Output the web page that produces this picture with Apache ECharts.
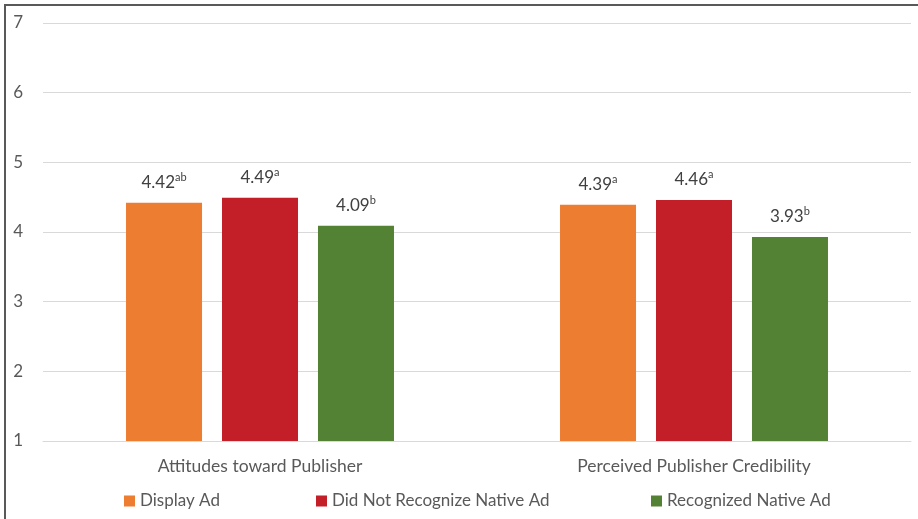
<!DOCTYPE html>
<html>
<head>
<meta charset="utf-8">
<script src="https://cdn.jsdelivr.net/npm/echarts@6/dist/echarts.min.js"></script>
<style>
html,body{margin:0;padding:0;background:#fff;}
#chart{width:918px;height:519px;}
</style>
</head>
<body>
<div id="chart"></div>
<script>
const categories = ['Attitudes toward Publisher', 'Perceived Publisher Credibility'];
const seriesNames = ['Display Ad', 'Did Not Recognize Native Ad', 'Recognized Native Ad'];
const displayAd = [4.42, 4.39];
const didNotRecognize = [4.49, 4.46];
const recognized = [4.09, 3.93];
const displayAdSup = ['ab', 'a'];
const didNotRecognizeSup = ['a', 'a'];
const recognizedSup = ['b', 'b'];
const yTicks = [1, 2, 3, 4, 5, 6, 7];
const colors = ['#ED7D31', '#C21F28', '#548235'];

const FONT = 'Lato';
const values = [displayAd, didNotRecognize, recognized];
const sups = [displayAdSup, didNotRecognizeSup, recognizedSup];

const chart = echarts.init(document.getElementById('chart'));

const series = seriesNames.map((name, i) => ({
  name: name,
  type: 'bar',
  data: values[i],
  barWidth: 76,
  barGap: '26.3%',
  itemStyle: { color: colors[i] },
  label: {
    show: true,
    position: 'top',
    distance: 9,
    formatter: (p) => '{v|' + p.value.toFixed(2) + '}{s|' + sups[i][p.dataIndex] + '}',
    rich: {
      v: { fontSize: 17, lineHeight: 22, color: '#404040', fontFamily: FONT },
      s: { fontSize: 11, lineHeight: 11, verticalAlign: 'top', color: '#404040', fontFamily: FONT }
    }
  }
}));

const legendLefts = [124, 316, 651];
const legends = seriesNames.map((name, i) => ({
  data: [name],
  left: legendLefts[i],
  top: 491,
  padding: 0,
  icon: 'rect',
  itemWidth: 11,
  itemHeight: 11,
  itemGap: 5,
  textStyle: { fontSize: 17, lineHeight: 20, color: '#595959', fontFamily: FONT }
}));

chart.setOption({
  animation: false,
  backgroundColor: '#fff',
  grid: { left: 43, right: 7, top: 23, bottom: 78 },
  legend: legends,
  xAxis: {
    type: 'category',
    data: categories,
    axisTick: { show: false },
    axisLine: { show: true, lineStyle: { color: '#d9d9d9', width: 1 } },
    axisLabel: { fontSize: 17.5, color: '#595959', fontFamily: FONT, margin: 16 }
  },
  yAxis: {
    type: 'value',
    min: yTicks[0],
    max: yTicks[yTicks.length - 1],
    interval: 1,
    axisLine: { show: false },
    axisTick: { show: false },
    splitLine: { lineStyle: { color: '#d9d9d9', width: 1 } },
    axisLabel: { fontSize: 17, color: '#595959', fontFamily: FONT, margin: 20 }
  },
  graphic: [
    { type: 'line', shape: { x1: 5, y1: 5, x2: 5, y2: 519 }, style: { stroke: '#595959', lineWidth: 2 } },
    { type: 'line', shape: { x1: 4, y1: 5, x2: 918, y2: 5 }, style: { stroke: '#595959', lineWidth: 2 } }
  ],
  series: series
});
</script>
</body>
</html>
